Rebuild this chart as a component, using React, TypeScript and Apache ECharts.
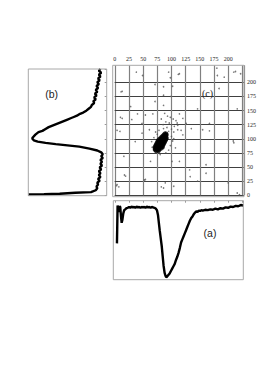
import React, { useEffect, useRef } from 'react';
import * as echarts from 'echarts';

// ---- tick labels ----
const xTickLabels = ['0', '25', '50', '75', '100', '125', '150', '175', '200'];
const yTickLabels = ['0', '25', '50', '75', '100', '125', '150', '175', '200'];

// ---- panel (c): scatter ----
const scatterSparse: number[][] = [
  [38, 218], [49, 212], [95, 218], [98, 208], [71, 196], [86, 192], [102, 193], [13, 184], [86, 177], [99, 175],
  [71, 166], [28, 157], [86, 159], [40, 144], [67, 144], [54, 142], [30, 134], [4, 115], [48, 127],
  [88, 145], [93, 140], [98, 138], [103, 135], [90, 130], [96, 128], [100, 125], [105, 122], [85, 125], [108, 132],
  [92, 120], [100, 117], [86, 118], [110, 128], [95, 113], [104, 112], [82, 135], [89, 112], [78, 115], [75, 108],
  [100, 104], [102, 96], [98, 88], [95, 80], [90, 75], [80, 72], [66, 85], [65, 95], [69, 102], [104, 100], [72, 112],
  [114, 215], [181, 212], [193, 209], [210, 218], [222, 215], [184, 189], [146, 153], [216, 153], [114, 144], [120, 136],
  [111, 124], [126, 127], [117, 115], [135, 118], [167, 127],
  [9, 113], [48, 110], [61, 116], [16, 69], [63, 60], [54, 28], [19, 34], [86, 13], [89, 22], [101, 60], [4, 19],
  [107, 84], [104, 16], [36, 95],
  [111, 116], [120, 107], [155, 116], [167, 114], [210, 93], [114, 60], [132, 45], [161, 54], [161, 39], [146, 25], [216, 4],
  [112, 214], [180, 225], [213, 219], [11, 183], [10, 138], [13, 136], [17, 36], [3, 17], [7, 15], [52, 27], [82, 15],
  [209, 96], [200, 22], [220, 1], [133, 33]
];

const scatterCore: number[][] = [
  [72, 78], [75, 78], [78, 78],
  [70, 80], [73, 80], [76, 80], [79, 80],
  [70, 82], [73, 82], [76, 82], [79, 82], [82, 82],
  [70, 84], [73, 84], [76, 84], [79, 84], [82, 84], [85, 84],
  [70, 86], [73, 86], [76, 86], [79, 86], [82, 86], [85, 86],
  [71, 88], [74, 88], [77, 88], [80, 88], [83, 88], [86, 88],
  [72, 90], [75, 90], [78, 90], [81, 90], [84, 90], [87, 90],
  [73, 92], [76, 92], [79, 92], [82, 92], [85, 92], [88, 92],
  [74, 94], [77, 94], [80, 94], [83, 94], [86, 94], [89, 94],
  [75, 96], [78, 96], [81, 96], [84, 96], [87, 96], [90, 96],
  [76, 98], [79, 98], [82, 98], [85, 98], [88, 98], [91, 98],
  [78, 100], [81, 100], [84, 100], [87, 100], [90, 100], [92, 100],
  [80, 102], [83, 102], [86, 102], [89, 102], [92, 102],
  [82, 104], [85, 104], [88, 104], [91, 104],
  [84, 106], [87, 106], [90, 106], [92, 106],
  [86, 108], [89, 108], [92, 108],
  [88, 110], [91, 110]
];

// ---- panel (a): horizontal profile (x: position 0..100, y: level 0..100) ----
const profileA: number[][] = [
  [0.5, 46], [1, 94], [1.6, 88], [2.1, 86], [2.6, 93], [3.1, 92], [3.7, 80], [4.2, 72], [4.8, 76], [5.5, 84],
  [6.2, 88], [7, 89], [8, 90.5], [9, 91], [10, 92], [11, 91], [12, 92.5], [13, 91.5], [14, 92], [15, 91],
  [16, 92.5], [17, 91.5], [18, 92], [19, 91], [20, 92], [21, 91.5], [22, 92], [23, 91], [24, 92.5], [25, 91.5],
  [26, 92], [27, 91], [28, 92], [29, 91.5], [30, 91], [31, 90], [32, 88], [32.8, 82], [33.5, 72], [34.2, 62],
  [35, 52], [35.8, 42], [36.5, 30], [37.2, 18], [38, 9], [38.7, 5], [39.3, 3], [40, 4], [41, 6], [42, 8],
  [43, 11], [44, 14], [45, 17], [46, 20], [47, 25], [48, 29], [49, 34], [50, 40], [51, 47], [52, 51],
  [53, 55], [54, 59], [55, 63], [56, 67], [57, 71], [58, 75], [59, 78], [60, 80], [61, 83], [62, 85],
  [63, 86.5], [64, 86], [65, 87.5], [66, 87], [67, 88], [68, 87.5], [70, 88.5], [72, 88], [74, 89], [76, 88.5],
  [78, 90], [80, 89], [82, 90.5], [84, 90], [86, 91.5], [88, 91], [90, 92.5], [92, 92], [94, 93.5], [96, 93],
  [98, 94.5], [100, 94]
];

// ---- panel (b): vertical profile (x: level 0..100, y: position 0..100) ----
const profileB: number[][] = [
  [92, 100], [90, 98.5], [93, 97], [90, 95.5], [92, 94], [89, 92.5], [91, 91], [88, 89.5], [90, 88], [87, 86.5],
  [89, 85], [86, 83.5], [88, 82], [85, 80.5], [87, 79], [84, 77.5], [86, 76], [83, 74.5], [84, 73], [81, 71.5],
  [80, 70], [77, 68.5], [74, 67], [70, 65.5], [66, 64.5], [62, 63], [58, 62], [54, 61], [50, 60], [46, 59],
  [42, 58], [38, 57], [34, 56], [30, 55], [26, 54], [22, 52.5], [18, 51], [13, 50], [9, 48], [6, 46],
  [5, 45], [7, 43.5], [12, 42.5], [22, 41.5], [35, 40.5], [50, 39.5], [65, 38.5], [78, 37], [88, 35.5], [93, 34],
  [95, 32.5], [93, 31], [95, 29.5], [92, 28], [94, 26.5], [92, 25], [94, 23.5], [91, 22], [93, 20.5], [90, 19],
  [92, 17.5], [90, 16], [92, 14.5], [89, 13], [91, 11.5], [88, 10], [89, 8.5], [87, 7], [88, 5.5], [86, 4],
  [80, 2.5], [60, 2], [40, 1.2], [20, 0.8], [0, 0.6]
];

const SERIF = '"Liberation Serif", "DejaVu Serif", serif';
const SANS = '"Liberation Sans", Arial, sans-serif';

export default function App() {
  const ref = useRef<HTMLDivElement>(null);
  useEffect(() => {
    if (!ref.current) return;
    const chart = echarts.init(ref.current, null, { renderer: 'svg' });
    const frame = '#a8a8a8';
    const option: any = {
      animation: false,
      backgroundColor: '#fff',
      grid: [
        { left: 114.8, right: 20, top: 65.3, bottom: 177.7 },   // 0 scatter
        { left: 114.8, right: 20.7, top: 200.7, bottom: 93.3 }, // 1 panel a
        { left: 28.3, right: 157.3, top: 69, bottom: 177.7 },   // 2 panel b
        { left: 114.8, right: 20, top: 82.3, bottom: 177.7 }    // 3 overlay for y grid lines
      ],
      xAxis: [
        {
          gridIndex: 0, type: 'value', min: 0, max: 228, interval: 25, position: 'top',
          axisLine: { show: false }, axisTick: { show: false },
          axisLabel: {
            fontSize: 6, fontFamily: SERIF, color: '#222', margin: 3,
            formatter: (v: number) => (xTickLabels.indexOf(String(v)) >= 0 ? String(v) : '')
          },
          splitLine: { show: true, lineStyle: { color: '#808080', width: 1.2 } }
        },
        { gridIndex: 1, type: 'value', min: -1.2, max: 100, show: false },
        { gridIndex: 2, type: 'value', min: 0, max: 100, show: false },
        {
          gridIndex: 1, type: 'value', min: 0, max: 226.7, interval: 25, position: 'top',
          axisLine: { show: false },
          axisTick: { show: true, inside: true, length: 2, lineStyle: { color: '#999' } },
          axisLabel: { show: false }, splitLine: { show: false }
        },
        { gridIndex: 3, type: 'value', min: 0, max: 228, show: false }
      ],
      yAxis: [
        { gridIndex: 0, type: 'value', min: 0, max: 230, show: false },
        { gridIndex: 1, type: 'value', min: 0, max: 100, show: false },
        { gridIndex: 2, type: 'value', min: 0, max: 100, show: false },
        {
          gridIndex: 2, type: 'value', min: 0, max: 223.5, interval: 25, position: 'right',
          axisLine: { show: false },
          axisTick: { show: true, inside: true, length: 2, lineStyle: { color: '#999' } },
          axisLabel: { show: false }, splitLine: { show: false }
        },
        {
          gridIndex: 3, type: 'value', min: 0, max: 200, interval: 25, position: 'right',
          axisLine: { show: false },
          axisTick: { show: true, length: 3, lineStyle: { color: '#404040' } },
          axisLabel: {
            fontSize: 6, fontFamily: SERIF, color: '#222', margin: 3,
            formatter: (v: number) => (yTickLabels.indexOf(String(v)) >= 0 ? String(v) : '')
          },
          splitLine: { show: true, lineStyle: { color: '#404040', width: 1 } }
        }
      ],
      graphic: [
        { type: 'rect', shape: { x: 112.7, y: 65.3, width: 131.3, height: 131.4 }, style: { fill: 'none', stroke: frame, lineWidth: 1 }, z: 10 },
        { type: 'rect', shape: { x: 113.3, y: 200.7, width: 130, height: 79 }, style: { fill: 'none', stroke: frame, lineWidth: 1 }, z: 10 },
        { type: 'rect', shape: { x: 28.3, y: 69, width: 78.4, height: 126.7 }, style: { fill: 'none', stroke: frame, lineWidth: 1 }, z: 10 },
        { type: 'text', x: 207.5, y: 93, style: { text: '(c)', font: '10px ' + SERIF, fill: '#222', textAlign: 'center', textVerticalAlign: 'middle' }, z: 20 },
        { type: 'text', x: 51.7, y: 94, style: { text: '(b)', font: '10.5px ' + SANS, fill: '#222', textAlign: 'center', textVerticalAlign: 'middle' }, z: 20 },
        { type: 'text', x: 210, y: 232.7, style: { text: '(a)', font: '10.5px ' + SANS, fill: '#222', textAlign: 'center', textVerticalAlign: 'middle' }, z: 20 }
      ],
      series: [
        {
          type: 'scatter', xAxisIndex: 0, yAxisIndex: 0, data: scatterSparse,
          symbolSize: 1.6, itemStyle: { color: '#555' }, silent: true
        },
        {
          type: 'scatter', xAxisIndex: 0, yAxisIndex: 0, data: scatterCore,
          symbolSize: 3.4, itemStyle: { color: '#000' }, silent: true
        },
        {
          type: 'line', xAxisIndex: 1, yAxisIndex: 1, data: profileA, showSymbol: false,
          lineStyle: { color: '#000', width: 2.4 }, silent: true
        },
        {
          type: 'line', xAxisIndex: 2, yAxisIndex: 2, data: profileB, showSymbol: false,
          lineStyle: { color: '#000', width: 2.4 }, silent: true
        }
      ]
    };
    chart.setOption(option);
    return () => chart.dispose();
  }, []);
  return <div ref={ref} style={{ position: 'absolute', left: 0, top: 0, width: 264, height: 373 }} />;
}
